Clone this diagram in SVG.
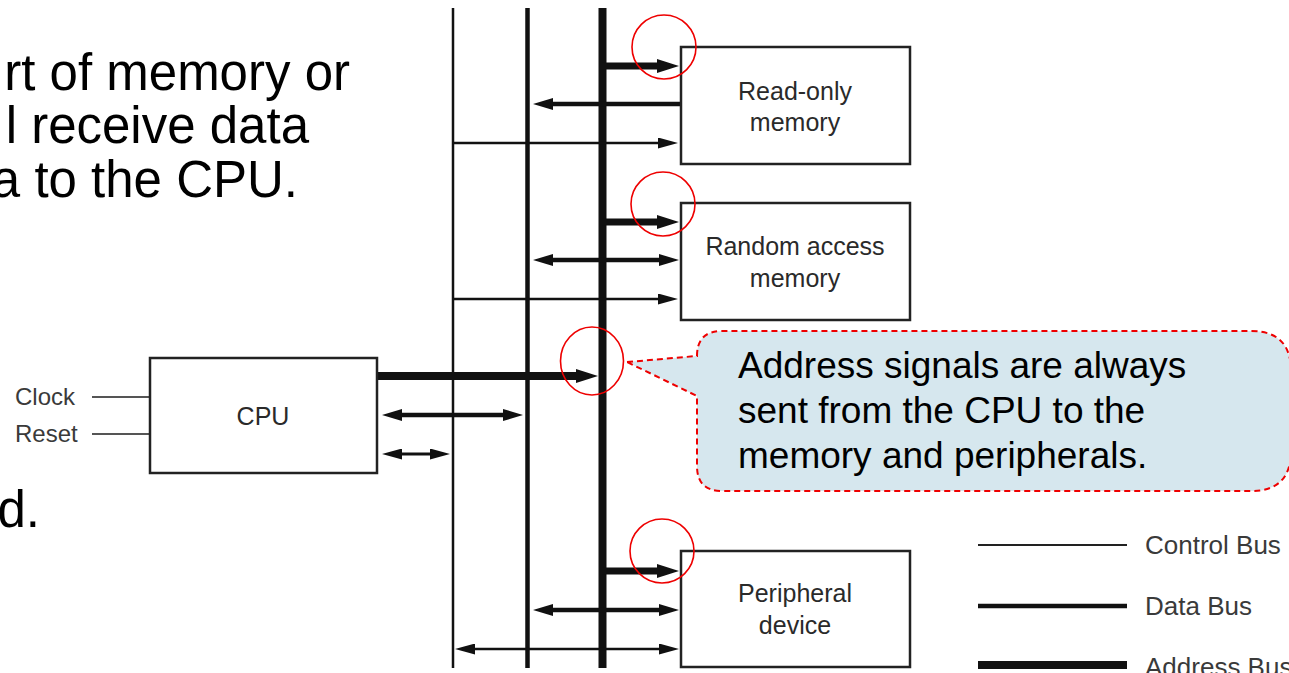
<svg xmlns="http://www.w3.org/2000/svg" width="1289" height="673" viewBox="0 0 1289 673">
<style>
.bus{stroke:#111;fill:none;stroke-linecap:butt}
.ctrl{stroke-width:2.5}
.data{stroke-width:4.5}
.addr{stroke-width:8}
.box{fill:#fff;stroke:#222;stroke-width:2.5}
.lbl{font-family:"Liberation Sans",Arial,sans-serif;font-size:25px;fill:#2a2a2a;text-anchor:middle}
.side{font-family:"Liberation Sans",Arial,sans-serif;font-size:24px;fill:#3a3a3a}
.leg{font-family:"Liberation Sans",Arial,sans-serif;font-size:26px;fill:#3a3a3a}
.big{font-family:"Liberation Sans",Arial,sans-serif;font-size:51px;fill:#000;text-anchor:end}
.call{font-family:"Liberation Sans",Arial,sans-serif;font-size:37px;fill:#000}
.hl{fill:none;stroke:#e00;stroke-width:1.6}
</style>
<defs>
<marker id="ha" markerUnits="userSpaceOnUse" markerWidth="22" markerHeight="14" refX="2" refY="7" orient="auto-start-reverse"><path d="M0,0 L22,7 L0,14 Z" fill="#111"/></marker>
<marker id="hd" markerUnits="userSpaceOnUse" markerWidth="20" markerHeight="12" refX="2" refY="6" orient="auto-start-reverse"><path d="M0,0 L20,6 L0,12 Z" fill="#111"/></marker>
<marker id="hc" markerUnits="userSpaceOnUse" markerWidth="20" markerHeight="11" refX="2" refY="5.5" orient="auto-start-reverse"><path d="M0,0 L20,5.5 L0,11 Z" fill="#111"/></marker>
</defs>

<g id="intro-text">
<text class="big" x="350" y="90">rt of memory or</text>
<text class="big" x="309" y="143">l receive data</text>
<text class="big" x="298" y="197">a to the CPU.</text>
<text class="big" x="40" y="527">d.</text>
</g>

<g id="connectors">
<line class="bus ctrl" x1="453" y1="8" x2="453" y2="668"/>
<line class="bus data" x1="527.5" y1="8" x2="527.5" y2="668"/>
<line class="bus addr" x1="602.5" y1="8" x2="602.5" y2="668"/>
<!-- ROM -->
<path class="bus" stroke-width="7" d="M602,66 H659" marker-end="url(#ha)"/>
<path class="bus data" d="M681,104 H551" marker-end="url(#hd)"/>
<path class="bus ctrl" d="M453,143 H660" marker-end="url(#hc)"/>
<!-- RAM -->
<path class="bus" stroke-width="7" d="M602,222 H659" marker-end="url(#ha)"/>
<path class="bus data" d="M551,260 H661" marker-start="url(#hd)" marker-end="url(#hd)"/>
<path class="bus ctrl" d="M453,299 H660" marker-end="url(#hc)"/>
<!-- CPU -->
<path class="bus addr" d="M378,376 H578" marker-end="url(#ha)"/>
<path class="bus data" d="M400,415 H505" marker-start="url(#hd)" marker-end="url(#hd)"/>
<path class="bus" stroke-width="3" d="M400,454 H432" marker-start="url(#hc)" marker-end="url(#hc)"/>
<line x1="92" y1="397" x2="150" y2="397" stroke="#555" stroke-width="2"/>
<line x1="92" y1="434" x2="150" y2="434" stroke="#555" stroke-width="2"/>
<!-- Peripheral -->
<path class="bus" stroke-width="7" d="M602,571 H659" marker-end="url(#ha)"/>
<path class="bus data" d="M551,610 H661" marker-start="url(#hd)" marker-end="url(#hd)"/>
<path class="bus ctrl" d="M473,649 H661" marker-start="url(#hc)" marker-end="url(#hc)"/>
</g>

<g id="rom">
<rect class="box" x="681" y="47" width="229" height="117"/>
<text class="lbl" x="795" y="100">Read-only</text>
<text class="lbl" x="795" y="131">memory</text>
</g>
<g id="ram">
<rect class="box" x="681" y="203" width="229" height="117"/>
<text class="lbl" x="795" y="255">Random access</text>
<text class="lbl" x="795" y="287">memory</text>
</g>
<g id="cpu">
<rect class="box" x="150" y="358" width="227" height="115"/>
<text class="lbl" x="263" y="425">CPU</text>
<text class="side" x="15" y="405">Clock</text>
<text class="side" x="15" y="442">Reset</text>
</g>
<g id="peripheral">
<rect class="box" x="681" y="551" width="229" height="116"/>
<text class="lbl" x="795" y="602">Peripheral</text>
<text class="lbl" x="795" y="634">device</text>
</g>

<g id="legend">
<line x1="978" y1="545" x2="1127" y2="545" stroke="#222" stroke-width="2"/>
<line x1="978" y1="606" x2="1127" y2="606" stroke="#111" stroke-width="4.5"/>
<line x1="978" y1="665" x2="1127" y2="665" stroke="#111" stroke-width="8"/>
<text class="leg" x="1145" y="554">Control Bus</text>
<text class="leg" x="1145" y="615">Data Bus</text>
<text class="leg" x="1145" y="676">Address Bus</text>
</g>

<g id="highlights">
<circle class="hl" cx="664" cy="47" r="32"/>
<circle class="hl" cx="663" cy="204" r="32"/>
<circle class="hl" cx="662" cy="551" r="32"/>
<ellipse class="hl" cx="592" cy="361" rx="31.5" ry="34"/>
</g>

<g id="callout">
<path d="M627,362 L697,356 Q697,331 722,331 L1251,331 Q1291,331 1291,371 L1291,451 Q1291,491 1251,491 L722,491 Q697,491 697,466 L697,396 Z" fill="#d6e7ee" stroke="#e00" stroke-width="2" stroke-dasharray="6,4"/>
<text class="call" x="738" y="378">Address signals are always</text>
<text class="call" x="738" y="423">sent from the CPU to the</text>
<text class="call" x="738" y="468">memory and peripherals.</text>
</g>
</svg>
